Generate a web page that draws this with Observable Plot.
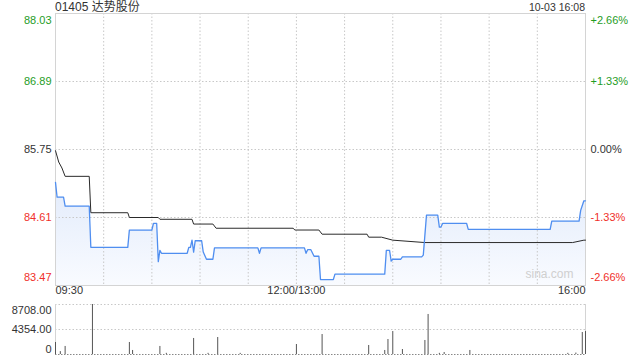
<!DOCTYPE html>
<html>
<head>
<meta charset="utf-8">
<script src="https://cdn.jsdelivr.net/npm/d3@7"></script>
<script src="https://cdn.jsdelivr.net/npm/@observablehq/plot@0.6"></script>
<style>
  html, body { margin: 0; padding: 0; background: #fff; }
  #wrap { position: relative; width: 640px; height: 360px; overflow: hidden;
          font-family: "Liberation Sans", Arial, "Noto Sans CJK SC", sans-serif; color: #333; }
  #wrap svg { position: absolute; left: 0; }
  .hdr { position: absolute; top: 0; font-size: 12px; line-height: 14px; color: #333; white-space: nowrap; }
</style>
</head>
<body>
<div id="wrap">
  <div class="hdr" id="title" style="left:55px;"></div>
  <div class="hdr" id="stamp" style="right:55px;font-size:10.5px;"></div>
</div>
<script>
// ---- data ----
const titleText = "01405 达势股份";
const stampText = "10-03 16:08";
const prevClose = 85.75;

const priceTimes = ["09:30","09:31","09:35","09:36","09:51","09:52","10:15","10:16","10:30","10:31","10:33","10:34","10:35","10:36","10:52","10:53","10:54","10:55","10:56","10:57","11:01","11:02","11:04","11:08","11:09","11:36","11:37","11:38","12:00","13:00","13:05","13:06","13:07","13:09","13:11","13:14","13:15","13:23","13:24","13:55","13:56","13:58","13:59","14:00","14:05","14:06","14:18","14:19","14:21","14:28","14:29","14:30","14:31","14:46","14:47","15:38","15:39","15:56","15:57","15:59","16:00"];
const priceValues = [85.20,84.95,84.95,84.80,84.80,84.11,84.11,84.40,84.40,84.51,84.51,83.87,84.06,84.01,84.01,84.11,84.11,84.23,84.03,84.22,84.22,84.03,83.91,83.91,84.10,84.10,84.01,84.10,84.10,84.10,84.10,84.01,84.07,84.07,83.96,83.96,83.57,83.57,83.66,83.66,84.06,84.06,83.88,83.91,83.91,83.95,83.95,83.98,84.65,84.65,84.45,84.45,84.51,84.51,84.41,84.41,84.55,84.55,84.73,84.89,84.89];

const avgTimes = ["09:30","09:32","09:34","09:36","09:51","09:52","10:15","10:16","10:34","10:35","10:55","10:56","11:08","11:10","11:58","11:59","12:00","13:00","13:14","13:16","13:44","13:45","13:53","14:00","14:20","15:52","15:59","16:00"];
const avgValues = [85.73,85.54,85.44,85.30,85.30,84.69,84.69,84.61,84.61,84.58,84.58,84.50,84.50,84.43,84.43,84.40,84.40,84.40,84.40,84.33,84.33,84.28,84.28,84.23,84.19,84.19,84.23,84.23];

const volTimes = ["09:30","09:33","09:36","09:53","10:16","10:18","10:35","10:39","10:56","11:05","11:11","11:25","13:00","13:16","13:45","13:55","13:57","14:00","14:06","14:20","14:22","14:29","14:32","14:48","15:49","15:54","15:58","16:00"];
const volValues = [2090,500,1400,8708,2090,700,1400,200,2790,200,2960,200,1740,3480,1570,700,2610,4000,870,2440,6970,200,350,700,200,250,3830,4000];

const priceTicks = [88.03, 86.89, 85.75, 84.61, 83.47];
const pctLabels = ["+2.66%", "+1.33%", "0.00%", "-1.33%", "-2.66%"];
const volTicks = [8708, 4354, 0];
const volLabels = ["8708.00", "4354.00", "0"];
const timeTickLabels = ["09:30", "12:00/13:00", "16:00"];
const timeTickTimes = ["09:30", "12:00", "16:00"];
const gridTimes = ["10:00","10:30","11:00","11:30","12:00","13:30","14:00","14:30","15:00","15:30"];

// ---- helpers ----
const toMin = t => { const [h, m] = t.split(":").map(Number); const v = h * 60 + m; return v <= 720 ? v - 570 : v - 780 + 150; };
const priceRows = priceTimes.map((t, i) => ({m: toMin(t), p: priceValues[i]}));
const avgRows = avgTimes.map((t, i) => ({m: toMin(t), p: avgValues[i]}));
const volRows = volTimes.map((t, i) => ({m: toMin(t), v: volValues[i]}));
const GREEN = "#1f9d1f", RED = "#f0302a", BLACK = "#333";
const colorOf = v => v > prevClose + 1e-9 ? GREEN : (v < prevClose - 1e-9 ? RED : BLACK);
const tickRows = priceTicks.map((v, i) => ({v, label: v.toFixed(2), pct: pctLabels[i], color: colorOf(v)}));
const topRow = [tickRows[0]], midRows = tickRows.slice(1, 4), botRow = [tickRows[4]];
const yMin = priceTicks[priceTicks.length - 1], yMax = priceTicks[0];

const defs = () => {
  const d = document.createElementNS("http://www.w3.org/2000/svg", "defs");
  d.innerHTML = '<linearGradient id="pxGrad" x1="0" y1="0" x2="0" y2="1"><stop offset="0" stop-color="#e2ebfb"/><stop offset="1" stop-color="#f9fbff"/></linearGradient>';
  return d;
};

const font = "'Liberation Sans', Arial, sans-serif";
const leftLbl = (rows, dy) => Plot.text(rows, {y: "v", text: "label", frameAnchor: "left", dx: -4, dy, textAnchor: "end", fill: "color", fontSize: 11});
const rightLbl = (rows, dy) => Plot.text(rows, {y: "v", text: "pct", frameAnchor: "right", dx: 5, dy, textAnchor: "start", fill: "color", fontSize: 11});
const xLbl = (i, anchor) => Plot.text([{m: toMin(timeTickTimes[i]), t: timeTickLabels[i]}], {x: "m", text: "t", frameAnchor: "bottom", dy: 8, textAnchor: anchor, fill: "#333", fontSize: 11});

const priceChart = Plot.plot({
  width: 640, height: 300,
  marginLeft: 55, marginRight: 55, marginTop: 13, marginBottom: 15,
  x: {domain: [0, 330], axis: null},
  y: {domain: [yMin, yMax], axis: null},
  color: {type: "identity"},
  style: {background: "transparent", fontFamily: font, fontSize: "11px", overflow: "visible"},
  marks: [
    defs,
    Plot.areaY(priceRows, {x: "m", y1: yMin, y2: "p", fill: "url(#pxGrad)"}),
    Plot.ruleY(priceTicks.slice(1, 4), {stroke: "#c8c8c8", strokeDasharray: "1.5,2"}),
    Plot.ruleX(gridTimes.map(toMin), {stroke: "#c8c8c8", strokeDasharray: "1.5,2"}),
    Plot.frame({stroke: "#d4d4d4"}),
    Plot.line(avgRows, {x: "m", y: "p", stroke: "#2a2a2a", strokeWidth: 1}),
    Plot.line(priceRows, {x: "m", y: "p", stroke: "#4f8ef0", strokeWidth: 1.3}),
    leftLbl(topRow, 7), leftLbl(midRows, 0), leftLbl(botRow, -8),
    rightLbl(topRow, 7), rightLbl(midRows, 0), rightLbl(botRow, -8),
    xLbl(0, "start"), xLbl(1, "middle"), xLbl(2, "end"),
    Plot.text(["sina.com"], {frameAnchor: "bottom-right", dx: -12, dy: -8, text: d => d, fill: "#cfcfcf", fontSize: 12})
  ]
});
priceChart.style.top = "0px";

const volRowsLbl = volTicks.map((v, i) => ({v, label: volLabels[i]}));
const vLbl = (rows, dy) => Plot.text(rows, {y: "v", text: "label", frameAnchor: "left", dx: -4, dy, textAnchor: "end", fill: "#333", fontSize: 11});
const volChart = Plot.plot({
  width: 640, height: 60,
  marginLeft: 55, marginRight: 55, marginTop: 4, marginBottom: 6,
  x: {domain: [0, 330], axis: null},
  y: {domain: [0, volTicks[0]], axis: null},
  style: {background: "transparent", fontFamily: font, fontSize: "11px", overflow: "visible"},
  marks: [
    Plot.ruleY([volTicks[0], volTicks[1]], {stroke: "#c8c8c8", strokeDasharray: "1.5,2"}),
    Plot.ruleY([0], {stroke: "#888", strokeDasharray: "1.5,1.5"}),
    Plot.ruleX([0, 330], {stroke: "#d4d4d4"}),
    Plot.ruleX(volRows, {x: "m", y1: 0, y2: "v", stroke: "#555", strokeWidth: 1}),
    vLbl([volRowsLbl[0]], 6), vLbl([volRowsLbl[1]], 0), vLbl([volRowsLbl[2]], -5)
  ]
});
volChart.style.top = "300px";

const wrap = document.getElementById("wrap");
wrap.insertBefore(volChart, wrap.firstChild);
wrap.insertBefore(priceChart, wrap.firstChild);
document.getElementById("title").textContent = titleText;
document.getElementById("stamp").textContent = stampText;
</script>
</body>
</html>
